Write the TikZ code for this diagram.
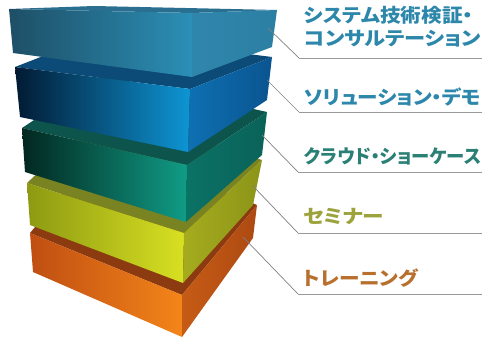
\documentclass[tikz,border=0pt]{standalone}
\usepackage{fontspec}
\usepackage{graphicx}
\usetikzlibrary{calc}
\newfontfamily\cjk{Noto Sans CJK JP}[RawFeature=+palt]

% One slab: #1 left, #2 front, #3 right (top corners); #4,#5,#6 the matching bottom corners.
% Colours come from slabtop, slabdark, slablight, slabside, slabsidedark.
\newcommand\slab[6]{%
  \fill[slabtop] (#1) -- (#2) -- (#3) -- ($(#1)+(#3)-(#2)$) -- cycle;
  \shade[left color=slabdark, right color=slablight] (#1) -- (#2) -- (#5) -- (#4) -- cycle;
  \shade[left color=slabside, right color=slabsidedark] (#2) -- (#3) -- (#6) -- (#5) -- cycle;
}
% label set to a given width, height kept
\newcommand\fitw[2]{\resizebox{#1}{\height}{#2}}

\definecolor{txtblue}{HTML}{2C87AA}
\definecolor{txtteal}{HTML}{2A8075}
\definecolor{txtolive}{HTML}{9DA33C}
\definecolor{txtbrown}{HTML}{B8702F}

\begin{document}
\begin{tikzpicture}[x=1pt,y=-1pt,
  lbl/.style={anchor=base west, inner sep=0pt, font=\cjk\bfseries\fontsize{19}{22}\selectfont},
  leader/.style={draw=black!50, line width=0.7pt},
  rule/.style={draw=black!40, line width=0.9pt}]
\useasboundingbox (0,0) rectangle (482,337);

% training (orange)
\definecolor{slabtop}{HTML}{8C3A10}
\definecolor{slabdark}{HTML}{C04E12}
\definecolor{slablight}{HTML}{F38519}
\definecolor{slabside}{HTML}{C65B15}
\definecolor{slabsidedark}{HTML}{AD4A12}
\slab{30,233}{182,295}{257,205}{33,272}{182,337}{253,238}

% seminar (yellow-green)
\definecolor{slabtop}{HTML}{7A8322}
\definecolor{slabdark}{HTML}{8D9A12}
\definecolor{slablight}{HTML}{D8E022}
\definecolor{slabside}{HTML}{A5AC1E}
\definecolor{slabsidedark}{HTML}{8C9418}
\slab{27,183}{184,233}{262,160}{30,225}{183,283}{253,205}

% showcase (teal)
\definecolor{slabtop}{HTML}{0D554C}
\definecolor{slabdark}{HTML}{02271F}
\definecolor{slablight}{HTML}{109C86}
\definecolor{slabside}{HTML}{0B7266}
\definecolor{slabsidedark}{HTML}{0A6258}
\slab{22,128}{187,165}{267,112}{25,172}{186,222}{262,155}

% demo (blue)
\definecolor{slabtop}{HTML}{0C4A78}
\definecolor{slabdark}{HTML}{021A33}
\definecolor{slablight}{HTML}{0E95D4}
\definecolor{slabside}{HTML}{0E70B2}
\definecolor{slabsidedark}{HTML}{0A5490}
\slab{15,67}{190,89}{272,57}{20,117}{188,152}{267,100}

% consulting (light blue)
\definecolor{slabtop}{HTML}{2A6F8F}
\definecolor{slabdark}{HTML}{1E4F66}
\definecolor{slablight}{HTML}{2B8FB6}
\definecolor{slabside}{HTML}{2F86AC}
\definecolor{slabsidedark}{HTML}{2C7FA3}
\slab{9,9}{192,13}{277,10}{13,53}{192,77}{272,47}

% labels
\node[lbl, text=txtblue] (t1) at (304,23) {\fitw{169pt}{システム技術検証・}};
\node[lbl, text=txtblue] (t1b) at (304,46) {\fitw{177pt}{コンサルテーション}};
\node[lbl, text=txtblue] (t2) at (304,105) {\fitw{177pt}{ソリューション・デモ}};
\node[lbl, text=txtteal] (t3) at (304,163) {\fitw{177pt}{クラウド・ショーケース}};
\node[lbl, text=txtolive] (t4) at (303,223) {\fitw{81pt}{セミナー}};
\node[lbl, text=txtbrown] (t5) at (303,285) {\fitw{115pt}{トレーニング}};

% leader anchors on the slabs, knees and right ends of the rules
\coordinate (a1) at (268,28);  \coordinate (k1) at (299,58);  \coordinate (e1) at (482,58);
\coordinate (a2) at (267,80);  \coordinate (k2) at (299,112); \coordinate (e2) at (482,112);
\coordinate (a3) at (262,135); \coordinate (k3) at (298,172); \coordinate (e3) at (482,172);
\coordinate (a4) at (252,185); \coordinate (k4) at (298,233); \coordinate (e4) at (482,233);
\coordinate (a5) at (243,237); \coordinate (k5) at (298,294); \coordinate (e5) at (482,294);

\foreach \i in {1,...,5} {
  \draw[leader] (a\i) -- (k\i);
  \draw[rule] (k\i) -- (e\i);
}
\end{tikzpicture}
\end{document}
